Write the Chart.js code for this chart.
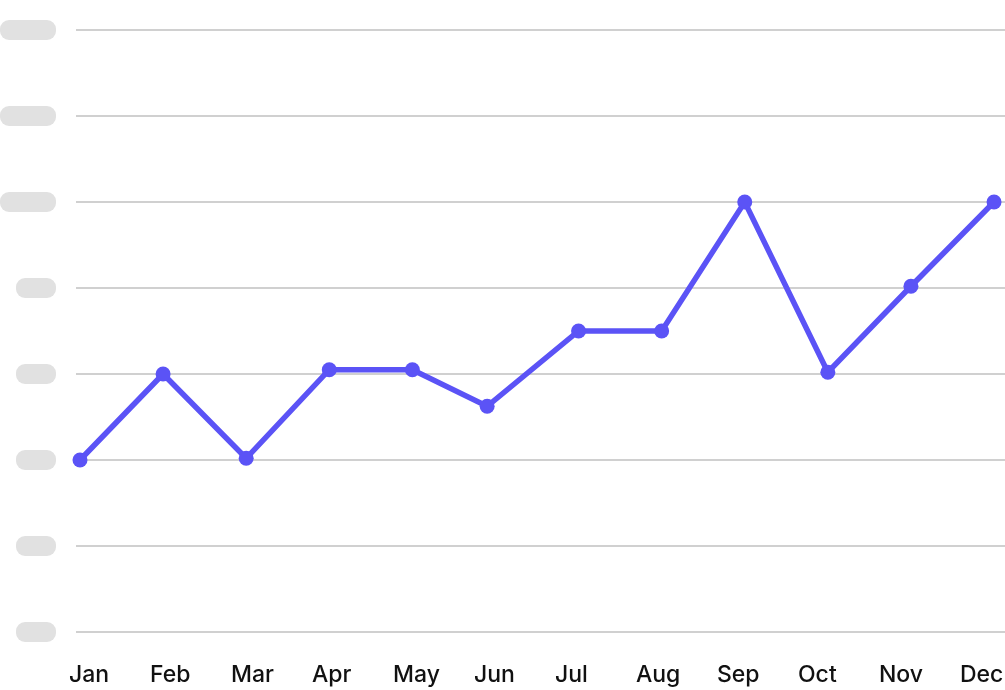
<!DOCTYPE html>
<html>
<head>
<meta charset="utf-8">
<script src="https://cdn.jsdelivr.net/npm/chart.js@4"></script>
<style>
  html, body { margin: 0; padding: 0; background: #fff; }
  #wrap { width: 1005px; height: 690px; position: relative; }
</style>
</head>
<body>
<div id="wrap"><canvas id="chart"></canvas></div>
<script>
const MONTHS = ['Jan', 'Feb', 'Mar', 'Apr', 'May', 'Jun', 'Jul', 'Aug', 'Sep', 'Oct', 'Nov', 'Dec']
// x position of each point (Jun sits a little early in the source)
const MONTH_POS = [0, 1, 2, 3, 4, 4.9, 6, 7, 8, 9, 10, 11]
const VALUES = [40, 60, 40.4, 61, 61, 52.5, 70, 70, 100, 60.4, 80.4, 100]
const Y_TICKS = [0, 20, 40, 60, 80, 100, 120, 140]

const LINE_COLOR = '#5b53f6'
const GRID_COLOR = '#d0d0d0'
const PILL_COLOR = '#e1e1e1'

// y tick labels are hidden behind grey pills in the source
const pillLabels = {
  id: 'pillLabels',
  afterDraw(chart) {
    const y = chart.scales.y
    const ctx = chart.ctx
    ctx.save()
    ctx.fillStyle = PILL_COLOR
    y.ticks.forEach(t => {
      const py = y.getPixelForValue(t.value)
      const w = String(t.value).length >= 3 ? 56 : 40
      ctx.beginPath()
      ctx.roundRect(56 - w, py - 10, w, 20, 9)
      ctx.fill()
    })
    ctx.restore()
  }
}

new Chart(document.getElementById('chart').getContext('2d'), {
  type: 'line',
  data: {
    datasets: [{
      data: VALUES.map((v, i) => ({ x: MONTH_POS[i], y: v })),
      borderColor: LINE_COLOR,
      backgroundColor: LINE_COLOR,
      borderWidth: 5.5,
      pointRadius: 7.5,
      pointBorderWidth: 0,
      pointBackgroundColor: LINE_COLOR,
      tension: 0,
      clip: false
    }]
  },
  options: {
    responsive: true,
    maintainAspectRatio: false,
    animation: false,
    layout: { autoPadding: false, padding: { top: 30, right: 0, bottom: 0, left: 0 } },
    plugins: { legend: { display: false }, tooltip: { enabled: false } },
    scales: {
      x: {
        type: 'linear',
        display: false,
        min: -0.0481,
        max: 11.132
      },
      x2: {
        type: 'linear',
        position: 'bottom',
        min: 0.0864,
        max: 11.556,
        grid: { display: false, drawTicks: true, tickLength: 29 },
        border: { display: false },
        afterBuildTicks: s => { s.ticks = MONTHS.map((_, i) => ({ value: i })) },
        afterFit: s => { s.height = 58; s.paddingLeft = 0; s.paddingRight = 0 },
        ticks: {
          autoSkip: false,
          maxRotation: 0,
          align: 'start',
          padding: 0,
          color: '#111111',
          font: { family: 'Inter', size: 23, weight: '500' },
          callback: v => MONTHS[v]
        }
      },
      y: {
        min: 0,
        max: 140,
        afterBuildTicks: s => { s.ticks = Y_TICKS.map(v => ({ value: v })) },
        afterFit: s => { s.width = 76 },
        grid: { color: GRID_COLOR, lineWidth: 2, drawTicks: false },
        border: { display: false },
        ticks: { color: 'transparent', font: { family: 'Inter', size: 14 } }
      }
    }
  },
  plugins: [pillLabels]
})
</script>
</body>
</html>
